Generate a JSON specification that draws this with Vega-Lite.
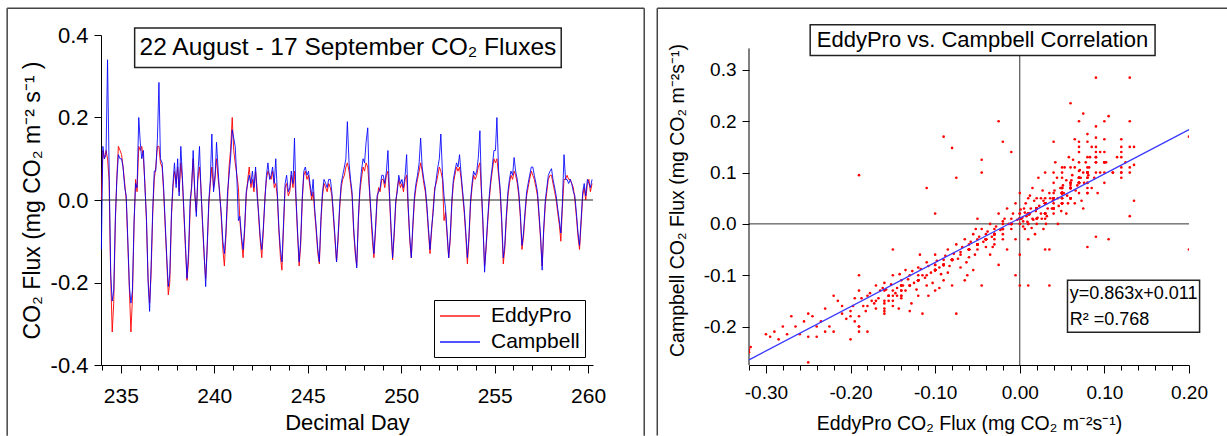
{
"$schema": "https://vega.github.io/schema/vega-lite/v6.json",
"padding": {"left": 6, "top": 7, "right": 0, "bottom": 0},
"spacing": 11,
"columns": 2,
"resolve": {"scale": {"color": "independent"}, "legend": {"color": "independent"}},
"config": {
 "font": "Liberation Sans",
 "view": {"stroke": null},
 "axis": {"domainColor": "black", "tickColor": "black", "labelColor": "black", "titleColor": "black", "grid": false, "labelFont": "Liberation Sans", "titleFont": "Liberation Sans", "titleFontWeight": "normal", "domainWidth": 1, "tickWidth": 1, "labelOverlap": false, "labelFlush": false},
 "legend": {"labelFont": "Liberation Sans"},
 "text": {"font": "Liberation Sans", "color": "black"}
},
"datasets": {
"flux": [
{"d":233.96,"e":0.0,"c":-0.12},
{"d":234.04,"e":0.12,"c":0.13},{"d":234.12,"e":0.10,"c":0.10},{"d":234.21,"e":0.12,"c":0.11},{"d":234.29,"e":0.10,"c":0.34},{"d":234.37,"e":0.05,"c":0.09},{"d":234.46,"e":-0.19,"c":-0.18},{"d":234.54,"e":-0.32,"c":-0.245},{"d":234.62,"e":-0.25,"c":-0.22},{"d":234.71,"e":-0.05,"c":-0.04},{"d":234.79,"e":0.06,"c":0.05},{"d":234.87,"e":0.13,"c":0.11},{"d":234.96,"e":0.12,"c":0.10},
{"d":235.04,"e":0.11,"c":0.10},{"d":235.12,"e":0.08,"c":0.08},{"d":235.21,"e":0.04,"c":0.03},{"d":235.29,"e":0.0,"c":0.01},{"d":235.37,"e":-0.10,"c":-0.09},{"d":235.46,"e":-0.22,"c":-0.21},{"d":235.54,"e":-0.32,"c":-0.25},{"d":235.62,"e":-0.24,"c":-0.22},{"d":235.71,"e":-0.06,"c":-0.05},{"d":235.79,"e":0.05,"c":0.04},{"d":235.87,"e":0.02,"c":0.03},{"d":235.96,"e":0.13,"c":0.20},
{"d":236.04,"e":0.12,"c":0.14},{"d":236.12,"e":0.13,"c":0.10},{"d":236.21,"e":0.10,"c":0.12},{"d":236.29,"e":0.04,"c":0.03},{"d":236.37,"e":-0.05,"c":-0.04},{"d":236.46,"e":-0.19,"c":-0.20},{"d":236.54,"e":-0.25,"c":-0.27},{"d":236.62,"e":-0.18,"c":-0.16},{"d":236.71,"e":-0.03,"c":-0.02},{"d":236.79,"e":0.05,"c":0.07},{"d":236.87,"e":0.08,"c":0.07},{"d":236.96,"e":0.13,"c":0.15},
{"d":237.04,"e":0.13,"c":0.285},{"d":237.12,"e":0.09,"c":0.10},{"d":237.21,"e":0.08,"c":0.09},{"d":237.29,"e":0.02,"c":0.03},{"d":237.37,"e":-0.06,"c":-0.05},{"d":237.46,"e":-0.15,"c":-0.14},{"d":237.54,"e":-0.23,"c":-0.21},{"d":237.62,"e":-0.20,"c":-0.18},{"d":237.71,"e":-0.04,"c":-0.03},{"d":237.79,"e":0.03,"c":0.04},{"d":237.87,"e":0.07,"c":0.09},{"d":237.96,"e":0.04,"c":0.03},
{"d":238.04,"e":0.08,"c":0.10},{"d":238.12,"e":0.02,"c":0.01},{"d":238.21,"e":0.09,"c":0.13},{"d":238.29,"e":0.05,"c":0.06},{"d":238.37,"e":-0.03,"c":-0.02},{"d":238.46,"e":-0.12,"c":-0.11},{"d":238.54,"e":-0.195,"c":-0.19},{"d":238.62,"e":-0.15,"c":-0.13},{"d":238.71,"e":-0.02,"c":0.0},{"d":238.79,"e":0.04,"c":0.03},{"d":238.87,"e":0.10,"c":0.12},{"d":238.96,"e":0.01,"c":0.02},
{"d":239.04,"e":-0.03,"c":-0.04},{"d":239.12,"e":0.05,"c":0.06},{"d":239.21,"e":0.08,"c":0.13},{"d":239.29,"e":0.03,"c":0.02},{"d":239.37,"e":-0.06,"c":-0.05},{"d":239.46,"e":-0.14,"c":-0.13},{"d":239.54,"e":-0.19,"c":-0.21},{"d":239.62,"e":-0.12,"c":-0.11},{"d":239.71,"e":-0.01,"c":0.0},{"d":239.79,"e":0.04,"c":0.05},{"d":239.87,"e":0.08,"c":0.16},{"d":239.96,"e":0.03,"c":0.02},
{"d":240.04,"e":0.06,"c":0.05},{"d":240.12,"e":0.10,"c":0.14},{"d":240.21,"e":0.05,"c":0.07},{"d":240.29,"e":0.02,"c":0.01},{"d":240.37,"e":-0.04,"c":-0.03},{"d":240.46,"e":-0.12,"c":-0.10},{"d":240.54,"e":-0.16,"c":-0.13},{"d":240.62,"e":-0.09,"c":-0.08},{"d":240.71,"e":0.0,"c":0.02},{"d":240.79,"e":0.08,"c":0.06},{"d":240.87,"e":0.12,"c":0.10},{"d":240.96,"e":0.20,"c":0.17},
{"d":241.04,"e":0.12,"c":0.15},{"d":241.12,"e":0.09,"c":0.13},{"d":241.21,"e":0.06,"c":0.05},{"d":241.29,"e":0.03,"c":-0.05},{"d":241.37,"e":-0.05,"c":-0.04},{"d":241.46,"e":-0.10,"c":-0.09},{"d":241.54,"e":-0.14,"c":-0.12},{"d":241.62,"e":-0.08,"c":-0.07},{"d":241.71,"e":0.01,"c":0.02},{"d":241.79,"e":0.05,"c":0.04},{"d":241.87,"e":0.08,"c":0.06},{"d":241.96,"e":0.03,"c":0.04},
{"d":242.04,"e":0.05,"c":0.07},{"d":242.12,"e":0.02,"c":0.03},{"d":242.21,"e":0.07,"c":0.08},{"d":242.29,"e":0.03,"c":0.01},{"d":242.37,"e":-0.04,"c":-0.03},{"d":242.46,"e":-0.10,"c":-0.09},{"d":242.54,"e":-0.14,"c":-0.12},{"d":242.62,"e":-0.08,"c":-0.07},{"d":242.71,"e":0.01,"c":0.0},{"d":242.79,"e":0.05,"c":0.06},{"d":242.87,"e":0.07,"c":0.09},{"d":242.96,"e":0.06,"c":0.05},
{"d":243.04,"e":0.05,"c":0.06},{"d":243.12,"e":0.07,"c":0.08},{"d":243.21,"e":0.03,"c":0.04},{"d":243.29,"e":0.04,"c":0.10},{"d":243.37,"e":0.01,"c":0.02},{"d":243.46,"e":-0.08,"c":-0.07},{"d":243.54,"e":-0.14,"c":-0.12},{"d":243.62,"e":-0.17,"c":-0.15},{"d":243.71,"e":-0.06,"c":-0.05},{"d":243.79,"e":0.03,"c":0.04},{"d":243.87,"e":0.04,"c":0.06},{"d":243.96,"e":0.01,"c":0.02},
{"d":244.04,"e":0.02,"c":0.03},{"d":244.12,"e":0.06,"c":0.07},{"d":244.21,"e":0.03,"c":0.04},{"d":244.29,"e":0.07,"c":0.15},{"d":244.37,"e":0.0,"c":0.01},{"d":244.46,"e":-0.09,"c":-0.08},{"d":244.54,"e":-0.16,"c":-0.15},{"d":244.62,"e":-0.11,"c":-0.10},{"d":244.71,"e":0.0,"c":0.01},{"d":244.79,"e":0.06,"c":0.07},{"d":244.87,"e":0.07,"c":0.08},{"d":244.96,"e":0.05,"c":0.06},
{"d":245.04,"e":0.06,"c":0.07},{"d":245.12,"e":0.03,"c":0.04},{"d":245.21,"e":0.0,"c":0.01},{"d":245.29,"e":0.02,"c":0.05},{"d":245.37,"e":-0.03,"c":-0.02},{"d":245.46,"e":-0.08,"c":-0.07},{"d":245.54,"e":-0.13,"c":-0.12},{"d":245.62,"e":-0.155,"c":-0.15},{"d":245.71,"e":-0.05,"c":-0.04},{"d":245.79,"e":0.01,"c":0.02},{"d":245.87,"e":0.04,"c":0.05},{"d":245.96,"e":0.03,"c":0.04},
{"d":246.04,"e":0.02,"c":0.03},{"d":246.12,"e":0.04,"c":0.05},{"d":246.21,"e":0.03,"c":0.05},{"d":246.29,"e":0.01,"c":0.02},{"d":246.37,"e":-0.04,"c":-0.03},{"d":246.46,"e":-0.10,"c":-0.09},{"d":246.54,"e":-0.15,"c":-0.15},{"d":246.62,"e":-0.10,"c":-0.09},{"d":246.71,"e":-0.02,"c":-0.01},{"d":246.79,"e":0.03,"c":0.04},{"d":246.87,"e":0.05,"c":0.06},{"d":246.96,"e":0.06,"c":0.08},
{"d":247.04,"e":0.08,"c":0.10},{"d":247.12,"e":0.09,"c":0.19},{"d":247.21,"e":0.07,"c":0.09},{"d":247.29,"e":0.04,"c":0.05},{"d":247.37,"e":0.01,"c":0.02},{"d":247.46,"e":-0.08,"c":-0.07},{"d":247.54,"e":-0.13,"c":-0.12},{"d":247.62,"e":-0.16,"c":-0.165},{"d":247.71,"e":-0.05,"c":-0.04},{"d":247.79,"e":0.02,"c":0.03},{"d":247.87,"e":0.05,"c":0.07},{"d":247.96,"e":0.08,"c":0.10},
{"d":248.04,"e":0.07,"c":0.09},{"d":248.12,"e":0.09,"c":0.14},{"d":248.21,"e":0.08,"c":0.175},{"d":248.29,"e":0.03,"c":0.04},{"d":248.37,"e":-0.03,"c":-0.02},{"d":248.46,"e":-0.10,"c":-0.08},{"d":248.54,"e":-0.14,"c":-0.13},{"d":248.62,"e":-0.08,"c":-0.07},{"d":248.71,"e":0.0,"c":0.01},{"d":248.79,"e":0.03,"c":0.02},{"d":248.87,"e":0.02,"c":0.03},{"d":248.96,"e":0.05,"c":0.06},
{"d":249.04,"e":0.05,"c":0.06},{"d":249.12,"e":0.03,"c":0.04},{"d":249.21,"e":0.06,"c":0.07},{"d":249.29,"e":0.07,"c":0.12},{"d":249.37,"e":0.01,"c":0.02},{"d":249.46,"e":-0.08,"c":-0.07},{"d":249.54,"e":-0.145,"c":-0.14},{"d":249.62,"e":-0.09,"c":-0.08},{"d":249.71,"e":-0.01,"c":0.0},{"d":249.79,"e":0.03,"c":0.02},{"d":249.87,"e":0.05,"c":0.06},{"d":249.96,"e":0.03,"c":0.04},
{"d":250.04,"e":0.04,"c":0.05},{"d":250.12,"e":0.02,"c":0.03},{"d":250.21,"e":0.05,"c":0.06},{"d":250.29,"e":0.06,"c":0.11},{"d":250.37,"e":-0.02,"c":-0.01},{"d":250.46,"e":-0.10,"c":-0.09},{"d":250.54,"e":-0.14,"c":-0.14},{"d":250.62,"e":-0.07,"c":-0.06},{"d":250.71,"e":0.0,"c":0.01},{"d":250.79,"e":0.03,"c":0.04},{"d":250.87,"e":0.05,"c":0.06},{"d":250.96,"e":0.07,"c":0.09},
{"d":251.04,"e":0.09,"c":0.15},{"d":251.12,"e":0.07,"c":0.08},{"d":251.21,"e":0.04,"c":0.05},{"d":251.29,"e":0.02,"c":0.03},{"d":251.37,"e":-0.02,"c":-0.01},{"d":251.46,"e":-0.08,"c":-0.07},{"d":251.54,"e":-0.13,"c":-0.12},{"d":251.62,"e":-0.08,"c":-0.07},{"d":251.71,"e":-0.02,"c":-0.03},{"d":251.79,"e":0.03,"c":0.02},{"d":251.87,"e":0.04,"c":0.05},{"d":251.96,"e":0.06,"c":0.08},
{"d":252.04,"e":0.08,"c":0.10},{"d":252.12,"e":0.07,"c":0.16},{"d":252.21,"e":0.05,"c":0.06},{"d":252.29,"e":-0.05,"c":0.01},{"d":252.37,"e":-0.03,"c":-0.02},{"d":252.46,"e":-0.09,"c":-0.08},{"d":252.54,"e":-0.14,"c":-0.14},{"d":252.62,"e":-0.10,"c":-0.09},{"d":252.71,"e":-0.01,"c":0.0},{"d":252.79,"e":0.04,"c":0.05},{"d":252.87,"e":0.06,"c":0.07},{"d":252.96,"e":0.08,"c":0.09},
{"d":253.04,"e":0.07,"c":0.08},{"d":253.12,"e":0.08,"c":0.11},{"d":253.21,"e":0.05,"c":0.06},{"d":253.29,"e":0.01,"c":0.02},{"d":253.37,"e":-0.03,"c":-0.02},{"d":253.46,"e":-0.09,"c":-0.08},{"d":253.54,"e":-0.155,"c":-0.14},{"d":253.62,"e":-0.10,"c":-0.09},{"d":253.71,"e":-0.01,"c":0.0},{"d":253.79,"e":0.03,"c":0.04},{"d":253.87,"e":0.06,"c":0.07},{"d":253.96,"e":0.05,"c":0.06},
{"d":254.04,"e":0.06,"c":0.07},{"d":254.12,"e":0.08,"c":0.10},{"d":254.21,"e":0.09,"c":0.168},{"d":254.29,"e":0.02,"c":0.03},{"d":254.37,"e":-0.06,"c":-0.05},{"d":254.46,"e":-0.16,"c":-0.175},{"d":254.54,"e":-0.12,"c":-0.11},{"d":254.62,"e":-0.06,"c":-0.05},{"d":254.71,"e":0.0,"c":0.01},{"d":254.79,"e":0.04,"c":0.05},{"d":254.87,"e":0.07,"c":0.08},{"d":254.96,"e":0.10,"c":0.12},
{"d":255.04,"e":0.09,"c":0.12},{"d":255.12,"e":0.10,"c":0.20},{"d":255.21,"e":0.06,"c":0.07},{"d":255.29,"e":0.02,"c":0.03},{"d":255.37,"e":-0.05,"c":-0.04},{"d":255.46,"e":-0.155,"c":-0.14},{"d":255.54,"e":-0.12,"c":-0.11},{"d":255.62,"e":-0.05,"c":-0.04},{"d":255.71,"e":0.01,"c":0.02},{"d":255.79,"e":0.04,"c":0.05},{"d":255.87,"e":0.06,"c":0.07},{"d":255.96,"e":0.05,"c":0.06},
{"d":256.04,"e":0.07,"c":0.103},{"d":256.12,"e":0.06,"c":0.07},{"d":256.21,"e":0.04,"c":0.05},{"d":256.29,"e":0.01,"c":0.02},{"d":256.37,"e":-0.04,"c":-0.03},{"d":256.46,"e":-0.12,"c":-0.11},{"d":256.54,"e":-0.09,"c":-0.08},{"d":256.62,"e":-0.04,"c":-0.03},{"d":256.71,"e":0.01,"c":0.02},{"d":256.79,"e":0.03,"c":0.04},{"d":256.87,"e":0.05,"c":0.06},{"d":256.96,"e":0.07,"c":0.08},
{"d":257.04,"e":0.06,"c":0.08},{"d":257.12,"e":0.05,"c":0.06},{"d":257.21,"e":0.03,"c":0.04},{"d":257.29,"e":0.01,"c":0.02},{"d":257.37,"e":-0.04,"c":-0.03},{"d":257.46,"e":-0.10,"c":-0.09},{"d":257.54,"e":-0.16,"c":-0.17},{"d":257.62,"e":-0.08,"c":-0.07},{"d":257.71,"e":-0.01,"c":0.0},{"d":257.79,"e":0.02,"c":0.03},{"d":257.87,"e":0.05,"c":0.06},{"d":257.96,"e":0.06,"c":0.07},
{"d":258.04,"e":0.06,"c":0.076},{"d":258.12,"e":0.04,"c":0.05},{"d":258.21,"e":0.02,"c":0.03},{"d":258.29,"e":0.0,"c":0.01},{"d":258.37,"e":-0.03,"c":-0.02},{"d":258.46,"e":-0.06,"c":-0.05},{"d":258.54,"e":-0.10,"c":-0.08},{"d":258.62,"e":-0.02,"c":-0.01},{"d":258.71,"e":0.05,"c":0.11},{"d":258.79,"e":0.05,"c":0.05},{"d":258.87,"e":0.06,"c":0.05},{"d":258.96,"e":0.05,"c":0.04},
{"d":259.04,"e":0.05,"c":0.05},{"d":259.12,"e":0.04,"c":0.04},{"d":259.21,"e":0.03,"c":0.02},{"d":259.29,"e":0.0,"c":0.01},{"d":259.37,"e":-0.04,"c":-0.03},{"d":259.46,"e":-0.09,"c":-0.08},{"d":259.54,"e":-0.12,"c":-0.11},{"d":259.62,"e":-0.06,"c":-0.05},{"d":259.71,"e":0.01,"c":0.02},{"d":259.79,"e":0.03,"c":0.04},{"d":259.87,"e":0.0,"c":0.01},{"d":259.96,"e":0.04,"c":0.05},
{"d":260.04,"e":0.05,"c":0.04},{"d":260.12,"e":0.02,"c":0.03},{"d":260.21,"e":0.04,"c":0.05}
],
"pairs": [
{"e":-0.318,"c":-0.24},{"e":-0.30,"c":-0.215},{"e":-0.295,"c":-0.22},{"e":-0.29,"c":-0.21},{"e":-0.285,"c":-0.225},{"e":-0.28,"c":-0.2},{"e":-0.275,"c":-0.215},{"e":-0.27,"c":-0.18},{"e":-0.265,"c":-0.2},{"e":-0.26,"c":-0.215},{"e":-0.255,"c":-0.19},{"e":-0.25,"c":-0.175},{"e":-0.245,"c":-0.18},{"e":-0.24,"c":-0.2},{"e":-0.235,"c":-0.19},{"e":-0.23,"c":-0.165},{"e":-0.225,"c":-0.2},{"e":-0.22,"c":-0.14},{"e":-0.215,"c":-0.15},{"e":-0.21,"c":-0.16},{"e":-0.205,"c":-0.185},{"e":-0.2,"c":-0.225},{"e":-0.2,"c":-0.17},{"e":-0.195,"c":-0.145},{"e":-0.19,"c":-0.2},{"e":-0.19,"c":-0.13},{"e":-0.185,"c":-0.16},{"e":-0.18,"c":-0.21},{"e":-0.18,"c":-0.14},{"e":-0.175,"c":-0.15},{"e":-0.17,"c":-0.12},{"e":-0.17,"c":-0.165},{"e":-0.165,"c":-0.13},{"e":-0.16,"c":-0.155},{"e":-0.16,"c":-0.115},{"e":-0.155,"c":-0.14},{"e":-0.15,"c":-0.1},{"e":-0.15,"c":-0.16},{"e":-0.145,"c":-0.125},{"e":-0.14,"c":-0.11},{"e":-0.14,"c":-0.145},{"e":-0.135,"c":-0.09},{"e":-0.135,"c":-0.13},{"e":-0.13,"c":-0.17},{"e":-0.13,"c":-0.1},{"e":-0.125,"c":-0.115},{"e":-0.12,"c":-0.085},{"e":-0.12,"c":-0.14},{"e":-0.115,"c":-0.1},{"e":-0.115,"c":-0.175},{"e":-0.11,"c":-0.075},{"e":-0.11,"c":-0.12},{"e":-0.105,"c":-0.095},{"e":-0.1,"c":-0.06},{"e":-0.1,"c":-0.13},{"e":-0.095,"c":-0.085},{"e":-0.09,"c":-0.11},{"e":-0.09,"c":-0.07},{"e":-0.085,"c":-0.05},{"e":-0.085,"c":-0.095},{"e":-0.08,"c":-0.12},{"e":-0.08,"c":-0.07},{"e":-0.075,"c":-0.04},{"e":-0.075,"c":-0.175},{"e":-0.07,"c":-0.085},{"e":-0.07,"c":-0.055},{"e":-0.065,"c":-0.03},{"e":-0.065,"c":-0.11},{"e":-0.06,"c":-0.065},{"e":-0.06,"c":-0.04},{"e":-0.055,"c":-0.02},{"e":-0.055,"c":-0.09},{"e":-0.05,"c":-0.05},{"e":-0.05,"c":-0.03},{"e":-0.045,"c":-0.01},{"e":-0.045,"c":-0.12},{"e":-0.04,"c":-0.045},{"e":-0.04,"c":-0.02},{"e":-0.035,"c":0.0},{"e":-0.035,"c":-0.06},{"e":-0.03,"c":-0.03},{"e":-0.03,"c":-0.01},{"e":-0.025,"c":0.02},{"e":-0.025,"c":-0.08},{"e":-0.02,"c":-0.02},{"e":-0.02,"c":0.005},{"e":-0.015,"c":0.03},{"e":-0.015,"c":-0.05},{"e":-0.01,"c":-0.01},{"e":-0.01,"c":0.01},{"e":-0.005,"c":0.04},{"e":-0.005,"c":-0.03},{"e":0.0,"c":0.0},{"e":0.0,"c":0.02},{"e":0.0,"c":-0.06},{"e":0.0,"c":0.06},{"e":0.002,"c":0.01},{"e":0.004,"c":0.005},{"e":0.005,"c":0.03},{"e":0.006,"c":-0.01},{"e":0.008,"c":0.015},{"e":0.01,"c":0.0},{"e":0.01,"c":0.05},{"e":0.01,"c":-0.03},{"e":0.012,"c":0.02},{"e":0.015,"c":0.01},{"e":0.015,"c":0.07},{"e":0.018,"c":-0.02},{"e":0.02,"c":0.03},{"e":0.02,"c":0.0},{"e":0.022,"c":0.09},{"e":0.025,"c":0.02},{"e":0.025,"c":0.05},{"e":0.028,"c":-0.01},{"e":0.03,"c":0.04},{"e":0.03,"c":0.1},{"e":0.032,"c":0.015},{"e":0.035,"c":0.06},{"e":0.035,"c":-0.05},{"e":0.038,"c":0.03},{"e":0.04,"c":0.08},{"e":0.04,"c":0.02},{"e":0.042,"c":0.12},{"e":0.045,"c":0.05},{"e":0.045,"c":0.0},{"e":0.048,"c":0.07},{"e":0.05,"c":0.04},{"e":0.05,"c":0.1},{"e":0.052,"c":0.06},{"e":0.055,"c":0.02},{"e":0.055,"c":0.085},{"e":0.058,"c":0.13},{"e":0.06,"c":0.05},{"e":0.06,"c":0.07},{"e":0.062,"c":0.095},{"e":0.065,"c":0.04},{"e":0.065,"c":0.11},{"e":0.068,"c":0.075},{"e":0.07,"c":0.06},{"e":0.07,"c":0.14},{"e":0.072,"c":0.09},{"e":0.075,"c":0.1},{"e":0.075,"c":0.03},{"e":0.078,"c":0.12},{"e":0.08,"c":0.08},{"e":0.08,"c":-0.045},{"e":0.082,"c":0.11},{"e":0.085,"c":0.07},{"e":0.085,"c":0.15},{"e":0.088,"c":0.09},{"e":0.09,"c":0.12},{"e":0.09,"c":-0.025},{"e":0.092,"c":0.06},{"e":0.095,"c":0.1},{"e":0.095,"c":0.14},{"e":0.1,"c":0.08},{"e":0.1,"c":0.165},{"e":0.102,"c":0.12},{"e":0.105,"c":-0.03},{"e":0.105,"c":0.21},{"e":0.11,"c":0.1},{"e":0.115,"c":0.13},{"e":0.12,"c":0.165},{"e":0.12,"c":0.09},{"e":0.125,"c":0.12},{"e":0.13,"c":0.015},{"e":0.135,"c":0.15},{"e":0.135,"c":0.115},{"e":0.135,"c":0.045},{"e":0.2,"c":-0.05},
{"e":-0.19,"c":0.095},{"e":-0.11,"c":0.07},{"e":-0.09,"c":0.17},{"e":-0.08,"c":0.148},{"e":-0.075,"c":0.09},{"e":-0.045,"c":0.125},{"e":-0.045,"c":0.1},{"e":-0.025,"c":0.2},{"e":-0.02,"c":0.16},{"e":-0.01,"c":0.14},{"e":0.04,"c":0.16},{"e":0.06,"c":0.235},{"e":0.065,"c":0.165},{"e":0.07,"c":0.2},{"e":0.075,"c":0.215},{"e":0.09,"c":0.285},{"e":-0.15,"c":-0.05},{"e":-0.1,"c":0.02},{"e":-0.19,"c":-0.1},{"e":0.01,"c":-0.12},{"e":0.035,"c":-0.12},{"e":-0.005,"c":-0.1},
{"e":0.003,"c":0.012},{"e":0.006,"c":0.022},{"e":0.009,"c":0.004},{"e":0.011,"c":0.018},{"e":0.013,"c":0.03},{"e":0.016,"c":0.008},{"e":0.019,"c":0.025},{"e":0.021,"c":0.012},{"e":0.004,"c":-0.005},{"e":-0.003,"c":0.008},{"e":0.007,"c":0.04},{"e":0.014,"c":-0.008},{"e":0.017,"c":0.045},{"e":0.023,"c":0.035},{"e":0.026,"c":0.01},{"e":0.001,"c":0.028},{"e":-0.008,"c":0.02},{"e":0.012,"c":0.055},{"e":0.028,"c":0.045},{"e":0.033,"c":0.03},
{"e":-0.158,"c":-0.128},{"e":-0.152,"c":-0.118},{"e":-0.147,"c":-0.135},{"e":-0.142,"c":-0.098},{"e":-0.138,"c":-0.12},{"e":-0.132,"c":-0.108},{"e":-0.127,"c":-0.092},{"e":-0.122,"c":-0.128},{"e":-0.117,"c":-0.088},{"e":-0.112,"c":-0.105},{"e":-0.108,"c":-0.082},{"e":-0.103,"c":-0.115},{"e":-0.098,"c":-0.072},{"e":-0.093,"c":-0.098},{"e":-0.088,"c":-0.062},{"e":-0.083,"c":-0.082},{"e":-0.078,"c":-0.058},{"e":-0.073,"c":-0.068},{"e":-0.068,"c":-0.045},{"e":-0.063,"c":-0.075},{"e":-0.058,"c":-0.035},{"e":-0.053,"c":-0.06},{"e":-0.048,"c":-0.025},{"e":-0.043,"c":-0.035},{"e":-0.038,"c":-0.015},{"e":-0.033,"c":-0.025},{"e":-0.028,"c":-0.005},{"e":-0.023,"c":-0.012},{"e":-0.018,"c":0.01},{"e":-0.013,"c":0.0},
{"e":0.036,"c":0.05},{"e":0.041,"c":0.065},{"e":0.046,"c":0.035},{"e":0.051,"c":0.075},{"e":0.056,"c":0.055},{"e":0.061,"c":0.085},{"e":0.066,"c":0.065},{"e":0.071,"c":0.105},{"e":0.076,"c":0.08},{"e":0.081,"c":0.095},{"e":0.044,"c":0.09},{"e":0.053,"c":0.11},{"e":0.063,"c":0.125},{"e":0.073,"c":0.045},{"e":0.083,"c":0.13},{"e":0.027,"c":0.065},{"e":0.031,"c":0.0},{"e":0.039,"c":0.045},{"e":0.049,"c":0.025},{"e":0.057,"c":0.04},
{"e":-0.21,"c":-0.175},{"e":-0.197,"c":-0.16},{"e":-0.187,"c":-0.145},{"e":-0.177,"c":-0.135},{"e":-0.167,"c":-0.145},{"e":-0.162,"c":-0.125},{"e":-0.172,"c":-0.155},{"e":-0.182,"c":-0.17},{"e":-0.118,"c":-0.06},{"e":-0.128,"c":-0.155},{"e":-0.143,"c":-0.165},{"e":-0.108,"c":-0.14},{"e":-0.095,"c":-0.125},{"e":-0.062,"c":-0.1},{"e":-0.052,"c":-0.01},{"e":-0.032,"c":-0.045}
]
},
"concat": [
{
 "width": 492, "height": 330,
 "data": {"name": "flux"},
 "layer": [
  {"mark": {"type": "line", "strokeWidth": 1, "opacity": 0.9},
   "encoding": {
    "x": {"field": "d", "type": "quantitative", "scale": {"domain": [233.94, 260.26], "nice": false, "zero": false},
     "axis": {"title": "Decimal Day", "titleFontSize": 22, "titlePadding": 6, "labelFontSize": 21, "labelPadding": 12, "tickCount": 100,
      "values": [234,235,236,237,238,239,240,241,242,243,244,245,246,247,248,249,250,251,252,253,254,255,256,257,258,259,260],
      "labelExpr": "datum.value % 5 === 0 ? format(datum.value, 'd') : ''",
      "tickSize": {"condition": {"test": "datum.value % 5 === 0", "value": 8}, "value": 5}}},
    "y": {"field": "e", "type": "quantitative", "scale": {"domain": [-0.4, 0.4], "nice": false, "zero": false},
     "axis": {"title": "CO₂ Flux (mg CO₂ m⁻² s⁻¹ )", "titleFontSize": 23, "titlePadding": 6, "labelFontSize": 22, "labelPadding": 6, "tickSize": 7, "tickCount": 100,
      "values": [-0.4, -0.2, 0, 0.2, 0.4],
      "labelExpr": "replace(format(datum.value, '.1f'), '−', '-')"}},
    "color": {"datum": "EddyPro", "type": "nominal", "scale": {"domain": ["EddyPro", "Campbell"], "range": ["#ff0000", "#0000ff"]},
     "legend": {"title": null, "orient": "bottom-right", "offset": 8, "strokeColor": "black", "fillColor": "white", "padding": 5, "labelFontSize": 21, "symbolType": "M-2,0H2", "symbolSize": 400, "symbolOffset": 10, "symbolStrokeWidth": 1.5, "rowPadding": 5, "labelOffset": 20}}
   }},
  {"mark": {"type": "line", "strokeWidth": 1, "opacity": 0.85},
   "encoding": {
    "x": {"field": "d", "type": "quantitative"},
    "y": {"field": "c", "type": "quantitative"},
    "color": {"datum": "Campbell", "type": "nominal"}
   }},
  {"data": {"values": [{}]}, "mark": {"type": "rule", "color": "#222", "strokeWidth": 1.2}, "encoding": {"y": {"datum": 0}}},
  {"data": {"values": [{}]}, "mark": {"type": "rect", "fill": "white", "stroke": "#222", "strokeWidth": 1.5},
   "encoding": {"x": {"datum": 235.74}, "x2": {"datum": 258.56}, "y": {"datum": 0.417}, "y2": {"datum": 0.3215}}},
  {"data": {"values": [{}]}, "mark": {"type": "text", "fontSize": 24.5, "align": "center", "baseline": "middle"},
   "encoding": {"x": {"datum": 247.15}, "y": {"datum": 0.369}, "text": {"value": "22 August - 17 September CO₂ Fluxes"}}},
  {"data": {"values": [{}]}, "mark": {"type": "rule", "color": "#444", "strokeWidth": 1.5},
   "encoding": {"x": {"datum": 228.92}, "y": {"datum": 0.465}, "y2": {"datum": -0.5714}}},
  {"data": {"values": [{}]}, "mark": {"type": "rule", "color": "#444", "strokeWidth": 1.5},
   "encoding": {"x": {"datum": 228.92}, "x2": {"datum": 263.0}, "y": {"datum": 0.465}}},
  {"data": {"values": [{}]}, "mark": {"type": "rule", "color": "#444", "strokeWidth": 1.5},
   "encoding": {"x": {"datum": 263.0}, "y": {"datum": 0.465}, "y2": {"datum": -0.5714}}}
 ]
},
{
 "width": 440, "height": 330,
 "data": {"name": "flux"},
 "layer": [
  {"data": {"values": [{}]}, "mark": {"type": "rule", "color": "#333", "strokeWidth": 1},
   "encoding": {"y": {"datum": 0}}},
  {"data": {"values": [{}]}, "mark": {"type": "rule", "color": "#333", "strokeWidth": 1},
   "encoding": {"x": {"datum": 0}, "y": {"datum": -0.275}, "y2": {"datum": 0.342}}},
  {"data": {"values": [{}]}, "mark": {"type": "rule", "color": "black", "strokeWidth": 1},
   "encoding": {"x": {"datum": -0.32}, "y": {"datum": -0.275}, "y2": {"datum": 0.342}}},
  {"mark": {"type": "point", "filled": true, "size": 7, "color": "#ff0000", "opacity": 1, "clip": true},
   "encoding": {
    "x": {"field": "e", "type": "quantitative", "scale": {"domain": [-0.32, 0.2], "nice": false, "zero": false},
     "axis": {"title": "EddyPro CO₂ Flux (mg CO₂ m⁻²s⁻¹)", "titleFontSize": 19.5, "titlePadding": 12, "labelFontSize": 19, "labelPadding": 10, "tickCount": 100,
      "values": [-0.32,-0.3,-0.28,-0.26,-0.24,-0.22,-0.2,-0.18,-0.16,-0.14,-0.12,-0.1,-0.08,-0.06,-0.04,-0.02,0,0.02,0.04,0.06,0.08,0.1,0.12,0.14,0.16,0.18,0.2],
      "labelExpr": "abs(datum.value*10 - round(datum.value*10)) < 0.001 ? replace(format(datum.value, '.2f'), '−', '-') : ''",
      "tickSize": {"condition": {"test": "abs(datum.value*10 - round(datum.value*10)) < 0.001", "value": 8}, "value": 5}}},
    "y": {"field": "c", "type": "quantitative", "scale": {"domain": [-0.275, 0.3681], "nice": false, "zero": false},
     "axis": {"title": "Campbell CO₂ Flux (mg CO₂ m⁻²s⁻¹)", "titleFontSize": 19.5, "titlePadding": 16, "labelFontSize": 19, "labelPadding": 6, "tickSize": 7, "tickCount": 100, "domain": false,
      "values": [-0.2, -0.1, 0, 0.1, 0.2, 0.3],
      "labelExpr": "replace(format(datum.value, '.1f'), '−', '-')"}}
   }},
  {"data": {"name": "pairs"}, "mark": {"type": "point", "filled": true, "size": 7, "color": "#ff0000", "opacity": 1, "clip": true},
   "encoding": {"x": {"field": "e", "type": "quantitative"}, "y": {"field": "c", "type": "quantitative"}}},
  {"data": {"values": [{"e": -0.32, "c": -0.265}, {"e": 0.2, "c": 0.1836}]},
   "mark": {"type": "line", "color": "#3a3aff", "strokeWidth": 1.3},
   "encoding": {"x": {"field": "e", "type": "quantitative"}, "y": {"field": "c", "type": "quantitative"}}},
  {"data": {"values": [{}]}, "mark": {"type": "rect", "fill": "white", "stroke": "#222", "strokeWidth": 1.5},
   "encoding": {"x": {"datum": -0.2477}, "x2": {"datum": 0.1599}, "y": {"datum": 0.388}, "y2": {"datum": 0.328}}},
  {"data": {"values": [{}]}, "mark": {"type": "text", "fontSize": 22, "align": "center", "baseline": "middle"},
   "encoding": {"x": {"datum": -0.0441}, "y": {"datum": 0.358}, "text": {"value": "EddyPro vs. Campbell Correlation"}}},
  {"data": {"values": [{}]}, "mark": {"type": "rect", "fill": "white", "stroke": "#222", "strokeWidth": 1.5},
   "encoding": {"x": {"datum": 0.0564}, "x2": {"datum": 0.2125}, "y": {"datum": -0.110}, "y2": {"datum": -0.211}}},
  {"data": {"values": [{"t": "y=0.863x+0.011", "v": -0.1364}, {"t": "R² =0.768", "v": -0.187}]},
   "mark": {"type": "text", "fontSize": 18, "align": "left", "baseline": "middle"},
   "encoding": {"x": {"datum": 0.059}, "y": {"field": "v", "type": "quantitative"}, "text": {"field": "t"}}},
  {"data": {"values": [{}]}, "mark": {"type": "rule", "color": "#444", "strokeWidth": 1.5},
   "encoding": {"x": {"datum": -0.4284}, "y": {"datum": 0.4203}, "y2": {"datum": -0.4124}}},
  {"data": {"values": [{}]}, "mark": {"type": "rule", "color": "#444", "strokeWidth": 1.5},
   "encoding": {"x": {"datum": -0.4284}, "x2": {"datum": 0.2468}, "y": {"datum": 0.4203}}}
 ]
}
]
}
